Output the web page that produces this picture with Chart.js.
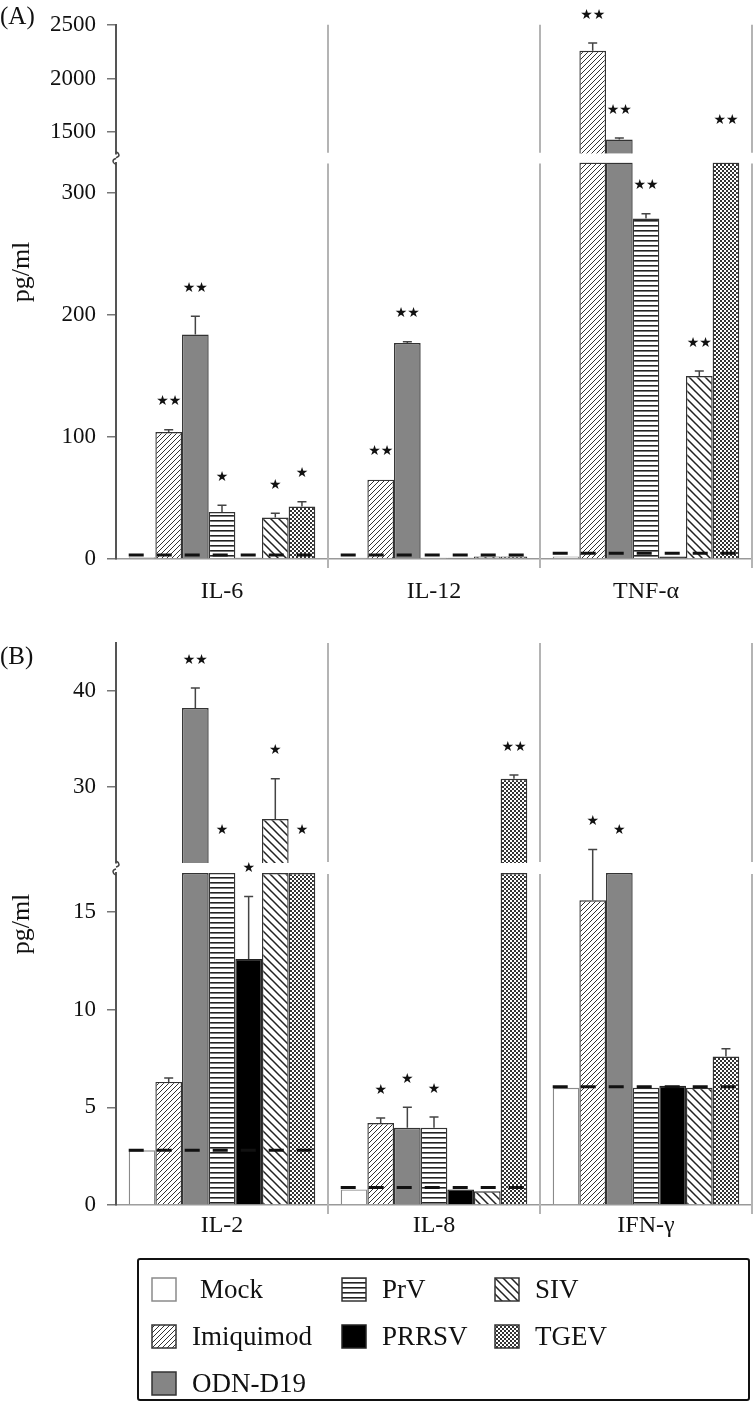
<!DOCTYPE html>
<html>
<head>
<meta charset="utf-8">
<script src="https://cdn.jsdelivr.net/npm/chart.js@4.4.0/dist/chart.umd.min.js"></script>
<style>
  body { margin: 0; background: #fff; width: 755px; height: 1408px; position: relative; overflow: hidden; font-family: "Liberation Serif", serif; }
  #chartA { position: absolute; left: 0; top: 0; }
  #chartB { position: absolute; left: 0; top: 612px; }
  #legend { position: absolute; left: 137px; top: 1258px; width: 613px; height: 143px; box-sizing: border-box;
            border: 2.5px solid #111; border-radius: 3px; padding: 6px 0 0 12px;
            display: grid; grid-auto-flow: column; grid-template-rows: repeat(3, 47px); grid-template-columns: 190px 153px auto; }
  .item { display: flex; align-items: center; font-size: 27px; color: #111; }
  .item canvas { margin-right: 15px; }
</style>
</head>
<body>
<canvas id="chartA" width="755" height="605"></canvas>
<canvas id="chartB" width="755" height="630"></canvas>
<div id="legend"></div>
<script>
const series = ['Mock', 'Imiquimod', 'ODN-D19', 'PrV', 'PRRSV', 'SIV', 'TGEV'];
const cytokinesA = ['IL-6', 'IL-12', 'TNF-\u03b1'];
const cytokinesB = ['IL-2', 'IL-8', 'IFN-\u03b3'];

// panel A, pg/ml (IL-6, IL-12, TNF-a)
const mockA = [1.5, 1, 2];
const imiquimodA = [104, 65, 2258];
const odnA = [184, 177, 1432];
const prvA = [38.5, 1, 279];
const prrsvA = [1, 1, 2];
const sivA = [34, 2, 150];
const tgevA = [43, 2, 900];

const mockErrA = [0, 0, 0];
const imiquimodErrA = [2, 0, 72];
const odnErrA = [15, 1, 14];
const prvErrA = [5.5, 0, 4];
const prrsvErrA = [0, 0, 0];
const sivErrA = [3.6, 0, 4];
const tgevErrA = [4, 0, 0];

const mockStarsA = ['', '', ''];
const imiquimodStarsA = ['**', '**', '**'];
const odnStarsA = ['**', '**', '**'];
const prvStarsA = ['*', '', '**'];
const prrsvStarsA = ['', '', ''];
const sivStarsA = ['*', '', '**'];
const tgevStarsA = ['*', '', '**'];

const mockLineA = [3.2, 3.2, 4.8];
const upperTicksA = [1500, 2000, 2500];
const lowerTicksA = [0, 100, 200, 300];

// panel B, pg/ml (IL-2, IL-8, IFN-g)
const mockB = [2.8, 0.8, 6.0];
const imiquimodB = [6.3, 4.2, 15.6];
const odnB = [38.2, 3.95, 20];
const prvB = [20, 3.95, 6.0];
const prrsvB = [12.6, 0.8, 6.1];
const sivB = [26.6, 0.7, 6.0];
const tgevB = [20, 30.8, 7.6];

const mockErrB = [0, 0, 0];
const imiquimodErrB = [0.2, 0.25, 2.6];
const odnErrB = [2.1, 1.05, 0];
const prvErrB = [0, 0.55, 0];
const prrsvErrB = [3.2, 0, 0];
const sivErrB = [4.2, 0, 0];
const tgevErrB = [0, 0.4, 0.4];

const mockStarsB = ['', '', ''];
const imiquimodStarsB = ['', '*', '*'];
const odnStarsB = ['**', '*', '*'];
const prvStarsB = ['*', '*', ''];
const prrsvStarsB = ['*', '', ''];
const sivStarsB = ['*', '', ''];
const tgevStarsB = ['*', '**', ''];

const mockLineB = [2.8, 0.9, 6.05];
const upperTicksB = [30, 40];
const lowerTicksB = [0, 5, 10, 15];

// ---- fills ----
function tile(size, draw) {
  const c = document.createElement('canvas');
  c.width = size; c.height = size;
  const g = c.getContext('2d');
  g.fillStyle = '#fff';
  g.fillRect(0, 0, size, size);
  draw(g, size);
  return g.createPattern(c, 'repeat');
}
const fills = [
  '#ffffff',
  tile(5, (g, s) => {
    g.strokeStyle = '#333'; g.lineWidth = 1;
    g.beginPath();
    g.moveTo(0, s); g.lineTo(s, 0);
    g.moveTo(-1, 1); g.lineTo(1, -1);
    g.moveTo(s - 1, s + 1); g.lineTo(s + 1, s - 1);
    g.stroke();
  }),
  '#858585',
  tile(5, (g, s) => { g.fillStyle = '#222'; g.fillRect(0, 0, s, 1.6); }),
  '#000000',
  tile(8, (g, s) => {
    g.strokeStyle = '#222'; g.lineWidth = 1.5;
    g.beginPath();
    g.moveTo(0, 0); g.lineTo(s, s);
    g.moveTo(-2, s - 2); g.lineTo(2, s + 2);
    g.moveTo(s - 2, -2); g.lineTo(s + 2, 2);
    g.stroke();
  }),
  tile(4, (g, s) => { g.fillStyle = '#333'; g.fillRect(0, 0, 2, 2); g.fillRect(2, 2, 2, 2); })
];
const borders = ['#8a8a8a', '#333', '#333', '#333', '#222', '#333', '#333'];

const serif = '"Liberation Serif", "Times New Roman", serif';

function makePanel(canvasId, p) {
  const datasets = [];
  series.forEach((name, s) => {
    const common = {
      label: name, stack: name,
      backgroundColor: fills[s], borderColor: borders[s], borderWidth: 1.4,
      categoryPercentage: 0.88, barPercentage: 1
    };
    datasets.push(Object.assign({}, common, {
      yAxisID: 'yLower',
      data: p.values[s].map(v => Math.min(v, p.lower[1]))
    }));
    datasets.push(Object.assign({}, common, {
      yAxisID: 'yUpper', base: p.upper[0],
      data: p.values[s].map(v => v > p.upper[0] ? v : null)
    }));
  });

  const decor = {
    id: 'decor',
    afterDatasetsDraw(chart) {
      const ctx = chart.ctx;
      const up = chart.scales.yUpper, lo = chart.scales.yLower, xs = chart.scales.x;
      const n = p.labels.length;
      ctx.save();

      // group dividers with a gap at the break
      const bounds = [];
      for (let i = 1; i < n; i++) bounds.push((xs.getPixelForValue(i - 1) + xs.getPixelForValue(i)) / 2);
      bounds.push(xs.right);
      ctx.strokeStyle = '#b4b4b4'; ctx.lineWidth = 2;
      bounds.forEach(x => {
        ctx.beginPath();
        ctx.moveTo(x, up.top); ctx.lineTo(x, up.bottom - 1);
        ctx.moveTo(x, lo.top + 1); ctx.lineTo(x, lo.bottom + 9);
        ctx.stroke();
      });

      // error bars
      ctx.strokeStyle = '#444'; ctx.lineWidth = 1.5;
      series.forEach((name, s) => {
        const meta = chart.getDatasetMeta(2 * s);
        p.values[s].forEach((v, i) => {
          const e = p.errors[s][i];
          if (!e) return;
          const sc = v > p.upper[0] ? up : (v <= p.lower[1] ? lo : null);
          if (!sc) return;
          const x = meta.data[i].x;
          const y0 = sc.getPixelForValue(v), y1 = sc.getPixelForValue(v + e);
          ctx.beginPath();
          ctx.moveTo(x, y0); ctx.lineTo(x, y1);
          ctx.moveTo(x - 4.5, y1); ctx.lineTo(x + 4.5, y1);
          ctx.stroke();
        });
      });

      // mock level, dashed
      const first = chart.getDatasetMeta(0), last = chart.getDatasetMeta(2 * (series.length - 1));
      ctx.strokeStyle = '#111'; ctx.lineWidth = 3; ctx.setLineDash([15, 13]);
      p.mockLine.forEach((m, i) => {
        const b0 = first.data[i], b1 = last.data[i];
        const y = lo.getPixelForValue(m);
        ctx.beginPath();
        ctx.moveTo(b0.x - b0.width / 2, y); ctx.lineTo(b1.x + b1.width / 2, y);
        ctx.stroke();
      });
      ctx.setLineDash([]);

      // significance stars
      ctx.fillStyle = '#111';
      ctx.font = '14px "DejaVu Sans", sans-serif';
      ctx.textAlign = 'center'; ctx.textBaseline = 'middle';
      series.forEach((name, s) => {
        const meta = chart.getDatasetMeta(2 * s);
        p.stars[s].forEach((st, i) => {
          if (!st) return;
          const v = p.values[s][i], e = p.errors[s][i];
          let y;
          if (v > p.upper[0]) y = up.getPixelForValue(v + e) - 28;
          else if (v <= p.lower[1]) y = lo.getPixelForValue(v + e) - 28;
          else y = up.bottom - 33;
          ctx.fillText(st.replace(/\*/g, '\u2605'), meta.data[i].x, y);
        });
      });

      // axis break mark
      const ax = lo.right;
      ctx.strokeStyle = '#444'; ctx.lineWidth = 1.5;
      ctx.beginPath();
      ctx.moveTo(ax, up.bottom - 2);
      ctx.bezierCurveTo(ax + 4, up.bottom, ax + 4, up.bottom + 3, ax, up.bottom + 4);
      ctx.moveTo(ax, lo.top - 4);
      ctx.bezierCurveTo(ax - 4, lo.top - 3, ax - 4, lo.top, ax, lo.top + 2);
      ctx.stroke();

      // panel letter and unit
      ctx.fillStyle = '#111';
      ctx.textAlign = 'left'; ctx.textBaseline = 'middle';
      ctx.font = '25px ' + serif;
      ctx.fillText(p.letter, 0, p.letterY);
      ctx.save();
      ctx.translate(22, p.unitY);
      ctx.rotate(-Math.PI / 2);
      ctx.textAlign = 'center';
      ctx.font = '26px ' + serif;
      ctx.fillText('pg/ml', 0, 0);
      ctx.restore();

      ctx.restore();
    }
  };

  const yTicks = { color: '#111', font: { family: serif, size: 23 }, padding: 11, callback: v => String(v) };
  const yGrid = { drawOnChartArea: false, tickLength: 9, color: '#777', lineWidth: 1.5 };
  const yBorder = { color: '#555', width: 2 };
  const fixW = s => { s.width = 116; };

  return new Chart(document.getElementById(canvasId), {
    type: 'bar',
    data: { labels: p.labels, datasets: datasets },
    options: {
      responsive: false,
      animation: false,
      layout: { padding: { top: p.padTop, right: 3, left: 0, bottom: 0 } },
      plugins: { legend: { display: false }, tooltip: { enabled: false } },
      scales: {
        x: {
          position: 'bottom',
          grid: { display: false, drawTicks: false },
          border: { color: '#999', width: 1.5 },
          ticks: { color: '#111', font: { family: serif, size: 24 }, padding: p.xPad },
          afterFit: s => { s.height = p.xHeight; }
        },
        yLower: {
          position: 'left', stack: 'v', stackWeight: p.weights[2], weight: 1, stacked: false,
          min: p.lower[0], max: p.lower[1],
          afterBuildTicks: s => { s.ticks = p.lowerTicks.map(value => ({ value })); },
          ticks: yTicks, grid: yGrid, border: yBorder, afterFit: fixW
        },
        yGap: {
          position: 'left', stack: 'v', stackWeight: p.weights[1], weight: 2,
          min: 0, max: 1,
          ticks: { display: false }, grid: { display: false }, border: { display: false },
          afterFit: fixW
        },
        yUpper: {
          position: 'left', stack: 'v', stackWeight: p.weights[0], weight: 3, stacked: false,
          min: p.upper[0], max: p.upper[1],
          afterBuildTicks: s => { s.ticks = p.upperTicks.map(value => ({ value })); },
          ticks: yTicks, grid: yGrid, border: yBorder, afterFit: fixW
        }
      }
    },
    plugins: [decor]
  });
}

makePanel('chartA', {
  labels: cytokinesA,
  values: [mockA, imiquimodA, odnA, prvA, prrsvA, sivA, tgevA],
  errors: [mockErrA, imiquimodErrA, odnErrA, prvErrA, prrsvErrA, sivErrA, tgevErrA],
  stars: [mockStarsA, imiquimodStarsA, odnStarsA, prvStarsA, prrsvStarsA, sivStarsA, tgevStarsA],
  mockLine: mockLineA,
  upper: [1300, 2500], lower: [0, 325],
  upperTicks: upperTicksA, lowerTicks: lowerTicksA,
  weights: [132, 9, 406],
  padTop: 12, xHeight: 46, xPad: 18,
  letter: '(A)', letterY: 17, unitY: 272
});

makePanel('chartB', {
  labels: cytokinesB,
  values: [mockB, imiquimodB, odnB, prvB, prrsvB, sivB, tgevB],
  errors: [mockErrB, imiquimodErrB, odnErrB, prvErrB, prrsvErrB, sivErrB, tgevErrB],
  stars: [mockStarsB, imiquimodStarsB, odnStarsB, prvStarsB, prrsvStarsB, sivStarsB, tgevStarsB],
  mockLine: mockLineB,
  upper: [22, 45], lower: [0, 17],
  upperTicks: upperTicksB, lowerTicks: lowerTicksB,
  weights: [220, 10, 332],
  padTop: 31, xHeight: 37, xPad: 6,
  letter: '(B)', letterY: 45, unitY: 312
});

// legend
const legendOrder = [0, 1, 2, 3, 4, -1, 5, 6];
const legend = document.getElementById('legend');
legendOrder.forEach(s => {
  const item = document.createElement('div');
  item.className = 'item';
  if (s >= 0) {
    const sw = document.createElement('canvas');
    sw.width = 26; sw.height = 25;
    const g = sw.getContext('2d');
    g.fillStyle = fills[s];
    g.fillRect(1, 1, 24, 23);
    g.strokeStyle = borders[s]; g.lineWidth = 1.5;
    g.strokeRect(1, 1, 24, 23);
    item.appendChild(sw);
    const t = document.createElement('span');
    t.textContent = series[s];
    if (s === 0) t.style.marginLeft = '8px';
    item.appendChild(t);
  }
  legend.appendChild(item);
});
</script>
</body>
</html>
